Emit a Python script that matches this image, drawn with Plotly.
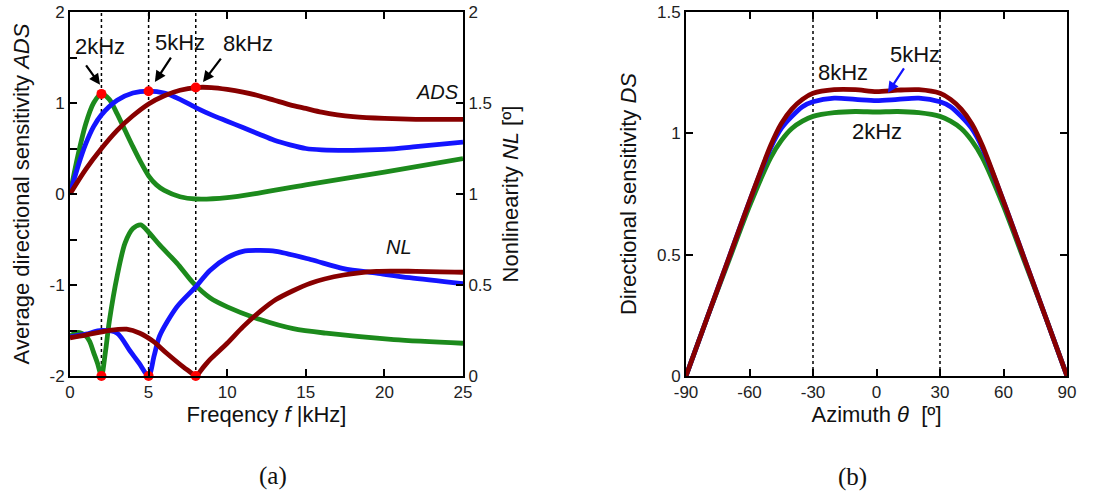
import plotly.graph_objects as go

# ---------------- data: panel (a) ----------------
f_g_ads = [0, 0.5, 1, 1.5, 2, 2.5, 3, 3.5, 4, 4.5, 5, 5.5, 6, 7, 8, 10, 12, 15, 20, 25]
ads_2k = [0, 0.42, 0.77, 1.0, 1.1, 1.04, 0.88, 0.7, 0.52, 0.35, 0.2, 0.1, 0.04, -0.03, -0.055, -0.04, 0.01, 0.1, 0.24, 0.39]

f_b_ads = [0, 0.5, 1, 1.5, 2, 3, 4, 5, 6, 7, 8, 9, 10, 11, 12, 13, 14, 15, 16, 18, 20, 22, 25]
ads_5k = [0, 0.3, 0.55, 0.74, 0.87, 1.03, 1.11, 1.13, 1.11, 1.04, 0.95, 0.87, 0.8, 0.73, 0.66, 0.59, 0.54, 0.5, 0.485, 0.48, 0.49, 0.52, 0.57]

f_r_ads = [0, 1, 2, 3, 4, 5, 6, 7, 8, 9, 10, 11, 12, 13, 14, 15, 16, 17, 18, 20, 22, 25]
ads_8k = [0, 0.27, 0.5, 0.7, 0.86, 0.99, 1.08, 1.14, 1.17, 1.17, 1.15, 1.12, 1.08, 1.03, 0.98, 0.94, 0.9, 0.87, 0.85, 0.83, 0.82, 0.82]

f_g_nl = [0, 0.5, 1, 1.25, 1.5, 1.75, 2, 2.25, 2.5, 3, 3.5, 4, 4.5, 5, 5.7, 6.8, 7.85, 8.9, 10, 12.1, 14.2, 16.3, 20.6, 25]
nl_2k = [0.22, 0.24, 0.22, 0.19, 0.13, 0.07, 0.0, 0.13, 0.3, 0.55, 0.73, 0.81, 0.83, 0.79, 0.72, 0.62, 0.51, 0.43, 0.38, 0.31, 0.26, 0.235, 0.2, 0.18]

f_b_nl = [0, 1, 2, 3, 3.8, 4.4, 5, 5.35, 5.7, 6.8, 8, 8.9, 10, 11, 12.1, 13.1, 15.3, 17.4, 19.5, 21.6, 25]
nl_5k = [0.215, 0.23, 0.25, 0.235, 0.14, 0.07, 0.0, 0.11, 0.22, 0.38, 0.49, 0.58, 0.65, 0.685, 0.69, 0.685, 0.64, 0.59, 0.565, 0.54, 0.507]

f_r_nl = [0, 1, 2.5, 3.6, 4.45, 5.3, 6.15, 7.2, 7.6, 8, 8.45, 8.9, 10, 11, 12.1, 13.1, 15.3, 17.4, 19.5, 22, 25]
nl_8k = [0.21, 0.225, 0.25, 0.257, 0.235, 0.19, 0.125, 0.05, 0.025, 0.0, 0.045, 0.09, 0.18, 0.27, 0.355, 0.42, 0.51, 0.555, 0.575, 0.575, 0.57]

peak_f = [2, 5, 8]
peak_ads = [1.1, 1.13, 1.17]
min_nl = [0, 0, 0]

# ---------------- data: panel (b) ----------------
theta = [-90, -80, -70, -60, -50, -45, -40, -35, -30, -20, -10, 0, 10, 20, 30, 35, 40, 45, 50, 60, 70, 80, 90]
ds_2k = [0, 0.24, 0.47, 0.7, 0.9, 0.97, 1.02, 1.05, 1.07, 1.085, 1.09, 1.088, 1.09, 1.085, 1.07, 1.05, 1.02, 0.97, 0.9, 0.7, 0.47, 0.24, 0]
ds_5k = [0, 0.24, 0.48, 0.72, 0.94, 1.02, 1.07, 1.11, 1.13, 1.145, 1.14, 1.135, 1.14, 1.145, 1.13, 1.11, 1.07, 1.02, 0.94, 0.72, 0.48, 0.24, 0]
ds_8k = [0, 0.24, 0.48, 0.72, 0.95, 1.04, 1.1, 1.14, 1.165, 1.18, 1.18, 1.172, 1.178, 1.18, 1.165, 1.14, 1.1, 1.04, 0.95, 0.72, 0.48, 0.24, 0]

GREEN = "#1c8a1c"
BLUE = "#1414ff"
DRED = "#880000"
FONT = "Arial, Liberation Sans, sans-serif"
LW = 4.8

fig = go.Figure()

def line(x, y, color, xa, ya):
    fig.add_trace(go.Scatter(x=x, y=y, mode="lines", xaxis=xa, yaxis=ya,
                             line=dict(color=color, width=LW, shape="spline", smoothing=0.8),
                             showlegend=False, hoverinfo="skip"))

line(f_g_ads, ads_2k, GREEN, "x", "y")
line(f_b_ads, ads_5k, BLUE, "x", "y")
line(f_r_ads, ads_8k, DRED, "x", "y")
line(f_g_nl, nl_2k, GREEN, "x", "y2")
line(f_b_nl, nl_5k, BLUE, "x", "y2")
line(f_r_nl, nl_8k, DRED, "x", "y2")

fig.add_trace(go.Scatter(x=peak_f, y=peak_ads, mode="markers", xaxis="x", yaxis="y",
                         marker=dict(color="red", size=10), cliponaxis=False, showlegend=False))
fig.add_trace(go.Scatter(x=peak_f, y=min_nl, mode="markers", xaxis="x", yaxis="y2",
                         marker=dict(color="red", size=10), cliponaxis=False, showlegend=False))

line(theta, ds_2k, GREEN, "x2", "y3")
line(theta, ds_5k, BLUE, "x2", "y3")
line(theta, ds_8k, DRED, "x2", "y3")

# dotted verticals
shapes = []
for fv in peak_f:
    shapes.append(dict(type="line", xref="x", yref="y domain", x0=fv, x1=fv, y0=0, y1=1,
                       line=dict(color="black", width=1.5, dash="dot"), layer="below"))
for tv in [-30, 30]:
    shapes.append(dict(type="line", xref="x2", yref="y3 domain", x0=tv, x1=tv, y0=0, y1=1,
                       line=dict(color="black", width=1.5, dash="dot"), layer="below"))

tick_font = dict(family=FONT, size=17, color="#222")
title_font = dict(family=FONT, size=22, color="#111")
axis_common = dict(showline=True, linecolor="black", linewidth=2, ticks="inside", ticklen=7,
                   tickwidth=2, tickcolor="black", showgrid=False, zeroline=False, tickfont=tick_font,
                   automargin=False)

YD = [1 - 376 / 499, 1 - 12 / 499]

fig.update_layout(
    width=1105, height=499, margin=dict(l=0, r=0, t=0, b=0),
    paper_bgcolor="white", plot_bgcolor="white", shapes=shapes,
    xaxis=dict(domain=[70 / 1105, 463 / 1105], range=[0, 25], tickvals=[0, 5, 10, 15, 20, 25],
               mirror="ticks", anchor="y",
               title=dict(text="Freqency <i>f</i> |kHz]", font=title_font, standoff=4), **axis_common),
    yaxis=dict(domain=YD, range=[-2, 2], tickvals=[-2, -1.5, -1, -0.5, 0, 0.5, 1, 1.5, 2],
               ticktext=["-2", "", "-1", "", "0", "", "1", "", "2"], anchor="x",
               title=dict(text="Average directional sensitivity <i>ADS</i>", font=title_font, standoff=14),
               **axis_common),
    yaxis2=dict(overlaying="y", side="right", range=[0, 2], tickvals=[0, 0.5, 1, 1.5, 2],
                ticktext=["0", "0.5", "1", "1.5", "2"], anchor="x",
                title=dict(text="Nonlinearity <i>NL</i> [º]", font=title_font, standoff=12),
                **axis_common),
    xaxis2=dict(domain=[686 / 1105, 1067 / 1105], range=[-90, 90], tickvals=[-90, -60, -30, 0, 30, 60, 90],
                ticktext=["-90", "-60", "-30", "0", "30", "60", "90"],
                mirror="ticks", anchor="y3",
                title=dict(text="Azimuth <i>θ</i>  [º]", font=title_font, standoff=4), **axis_common),
    yaxis3=dict(domain=YD, range=[0, 1.5], tickvals=[0, 0.5, 1, 1.5], ticktext=["0", "0.5", "1", "1.5"],
                mirror="ticks", anchor="x2",
                title=dict(text="Directional sensitivity <i>DS</i>", font=title_font, standoff=14),
                **axis_common),
)

ann_font = dict(family=FONT, size=22, color="#111")
anns = [
    dict(x=1.91, y=1.62, xref="x", yref="y", text="2kHz", showarrow=False, font=ann_font),
    dict(x=7.0, y=1.67, xref="x", yref="y", text="5kHz", showarrow=False, font=ann_font),
    dict(x=11.3, y=1.65, xref="x", yref="y", text="8kHz", showarrow=False, font=ann_font),
    dict(x=1.91, y=1.2, xref="x", yref="y", text="", showarrow=True, ax=-15, ay=-21,
         arrowhead=2, arrowsize=1, arrowwidth=2.2, arrowcolor="black"),
    dict(x=5.4, y=1.23, xref="x", yref="y", text="", showarrow=True, ax=17, ay=-26,
         arrowhead=2, arrowsize=1, arrowwidth=2.2, arrowcolor="black"),
    dict(x=8.46, y=1.23, xref="x", yref="y", text="", showarrow=True, ax=19, ay=-25,
         arrowhead=2, arrowsize=1, arrowwidth=2.2, arrowcolor="black"),
    dict(x=23.4, y=1.12, xref="x", yref="y", text="<i>ADS</i>", showarrow=False,
         font=dict(family=FONT, size=20, color="#111")),
    dict(x=20.9, y=-0.58, xref="x", yref="y", text="<i>NL</i>", showarrow=False,
         font=dict(family=FONT, size=20, color="#111")),
    dict(x=-15.8, y=1.249, xref="x2", yref="y3", text="8kHz", showarrow=False, font=ann_font),
    dict(x=18.2, y=1.323, xref="x2", yref="y3", text="5kHz", showarrow=False, font=ann_font),
    dict(x=0.2, y=1.006, xref="x2", yref="y3", text="2kHz", showarrow=False, font=ann_font),
    dict(x=5.4, y=1.167, xref="x2", yref="y3", text="", showarrow=True, ax=17, ay=-26,
         arrowhead=2, arrowsize=1, arrowwidth=2.2, arrowcolor=BLUE),
    dict(x=273 / 1105, y=1 - 476 / 499, xref="paper", yref="paper", text="(a)", showarrow=False,
         xanchor="center", yanchor="middle",
         font=dict(family="Liberation Serif, Times New Roman, serif", size=25, color="#111")),
    dict(x=852 / 1105, y=1 - 477 / 499, xref="paper", yref="paper", text="(b)", showarrow=False,
         xanchor="center", yanchor="middle",
         font=dict(family="Liberation Serif, Times New Roman, serif", size=25, color="#111")),
]
fig.update_layout(annotations=anns)

fig.write_html("out.html")
